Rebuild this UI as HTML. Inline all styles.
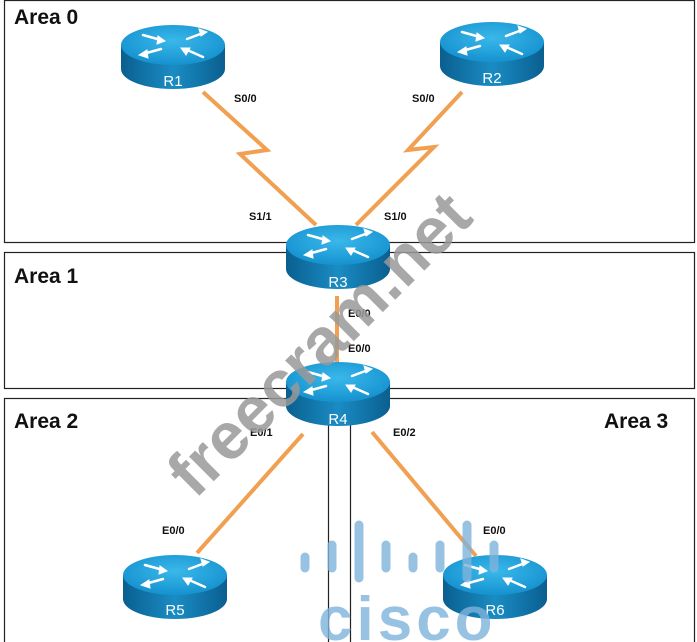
<!DOCTYPE html>
<html><head><style>
html,body{margin:0;padding:0;background:#fff;}
body{width:697px;height:642px;overflow:hidden;position:relative;font-family:"Liberation Sans",sans-serif;}
</style></head><body>
<svg width="697" height="642" viewBox="0 0 697 642" xmlns="http://www.w3.org/2000/svg" style="position:absolute;left:0;top:0">
<defs>
<linearGradient id="side" x1="0" x2="1" y1="0" y2="0">
<stop offset="0" stop-color="#0a5f8f"/><stop offset="0.5" stop-color="#1a8cc4"/><stop offset="1" stop-color="#0a5f8f"/>
</linearGradient>
<radialGradient id="top" cx="0.5" cy="0.4" r="0.6">
<stop offset="0" stop-color="#3ab8ea"/><stop offset="1" stop-color="#1592cf"/>
</radialGradient>
<g id="rt">
<path d="M-52,0 L-52,24 A52,20 0 0 0 52,24 L52,0 Z" fill="url(#side)"/>
<ellipse cx="0" cy="0" rx="52" ry="20" fill="url(#top)"/>
<g fill="#fff" stroke="#fff" stroke-width="2.5" stroke-linecap="round">
<line x1="-30" y1="-10" x2="-12" y2="-5"/><polygon points="-8,-4 -16,-1 -15,-9" stroke-width="1"/>
<line x1="30" y1="-12" x2="14" y2="-6"/><polygon points="34,-13 26,-16 28,-9" stroke-width="1"/>
<line x1="-12" y1="4" x2="-30" y2="9"/><polygon points="-34,10 -26,5 -25,13" stroke-width="1"/>
<line x1="12" y1="4" x2="30" y2="12"/><polygon points="8,3 17,3 13,10" stroke-width="1"/>
</g>
</g>
</defs>
<g fill="none" stroke="#222" stroke-width="1.2">
<rect x="4.5" y="0.5" width="690" height="242"/>
<rect x="4.5" y="252.5" width="690" height="136"/>
<rect x="4.5" y="398.5" width="324" height="250"/>
<rect x="350.5" y="398.5" width="344" height="250"/>
</g>
<g stroke="#f0a050" stroke-width="4" fill="none" stroke-linejoin="miter">
<polyline points="203,92 267,150 240,154 316,225"/>
<polyline points="462,92 408,150 434,147 356,225"/>
<line x1="337" y1="296" x2="337" y2="362"/>
<line x1="303" y1="434" x2="197" y2="553"/>
<line x1="372" y1="432" x2="476" y2="556"/>
</g>
<use href="#rt" x="173" y="45"/>
<use href="#rt" x="492" y="42"/>
<use href="#rt" x="338" y="245"/>
<use href="#rt" x="338" y="382"/>
<use href="#rt" x="175" y="575"/>
<use href="#rt" x="495" y="575"/>
<g fill="#fff" font-size="15" text-anchor="middle">
<text x="173" y="86">R1</text><text x="492" y="83">R2</text>
<text x="338" y="287">R3</text><text x="338" y="424">R4</text>
<text x="175" y="615">R5</text><text x="495" y="615">R6</text>
</g>
<g font-size="11" font-weight="bold" fill="#111">
<text x="234" y="102">S0/0</text><text x="412" y="102">S0/0</text>
<text x="249" y="220">S1/1</text><text x="384" y="220">S1/0</text>
<text x="348" y="317">E0/0</text><text x="348" y="352">E0/0</text>
<text x="250" y="436">E0/1</text><text x="393" y="436">E0/2</text>
<text x="162" y="534">E0/0</text><text x="483" y="534">E0/0</text>
</g>
<g font-size="21" font-weight="bold" fill="#111">
<text x="14" y="24">Area 0</text><text x="14" y="283">Area 1</text>
<text x="14" y="428">Area 2</text><text x="604" y="428">Area 3</text>
</g>
<text x="0" y="0" transform="translate(195,500) rotate(-45)" font-size="66" font-weight="bold" fill="#999" opacity="0.85">freecram.net</text>
<g stroke="#7fb3dc" stroke-width="9" stroke-linecap="round" opacity="0.8">
<line x1="305" y1="557" x2="305" y2="568"/><line x1="332" y1="545" x2="332" y2="568"/>
<line x1="359" y1="525" x2="359" y2="578"/><line x1="386" y1="545" x2="386" y2="568"/>
<line x1="413" y1="557" x2="413" y2="568"/><line x1="440" y1="545" x2="440" y2="568"/>
<line x1="467" y1="525" x2="467" y2="578"/><line x1="494" y1="545" x2="494" y2="568"/>
</g>
<text x="318" y="640" font-size="62" font-weight="bold" fill="#7fb3dc" opacity="0.8" letter-spacing="4">cisco</text>
</svg>
</body></html>
